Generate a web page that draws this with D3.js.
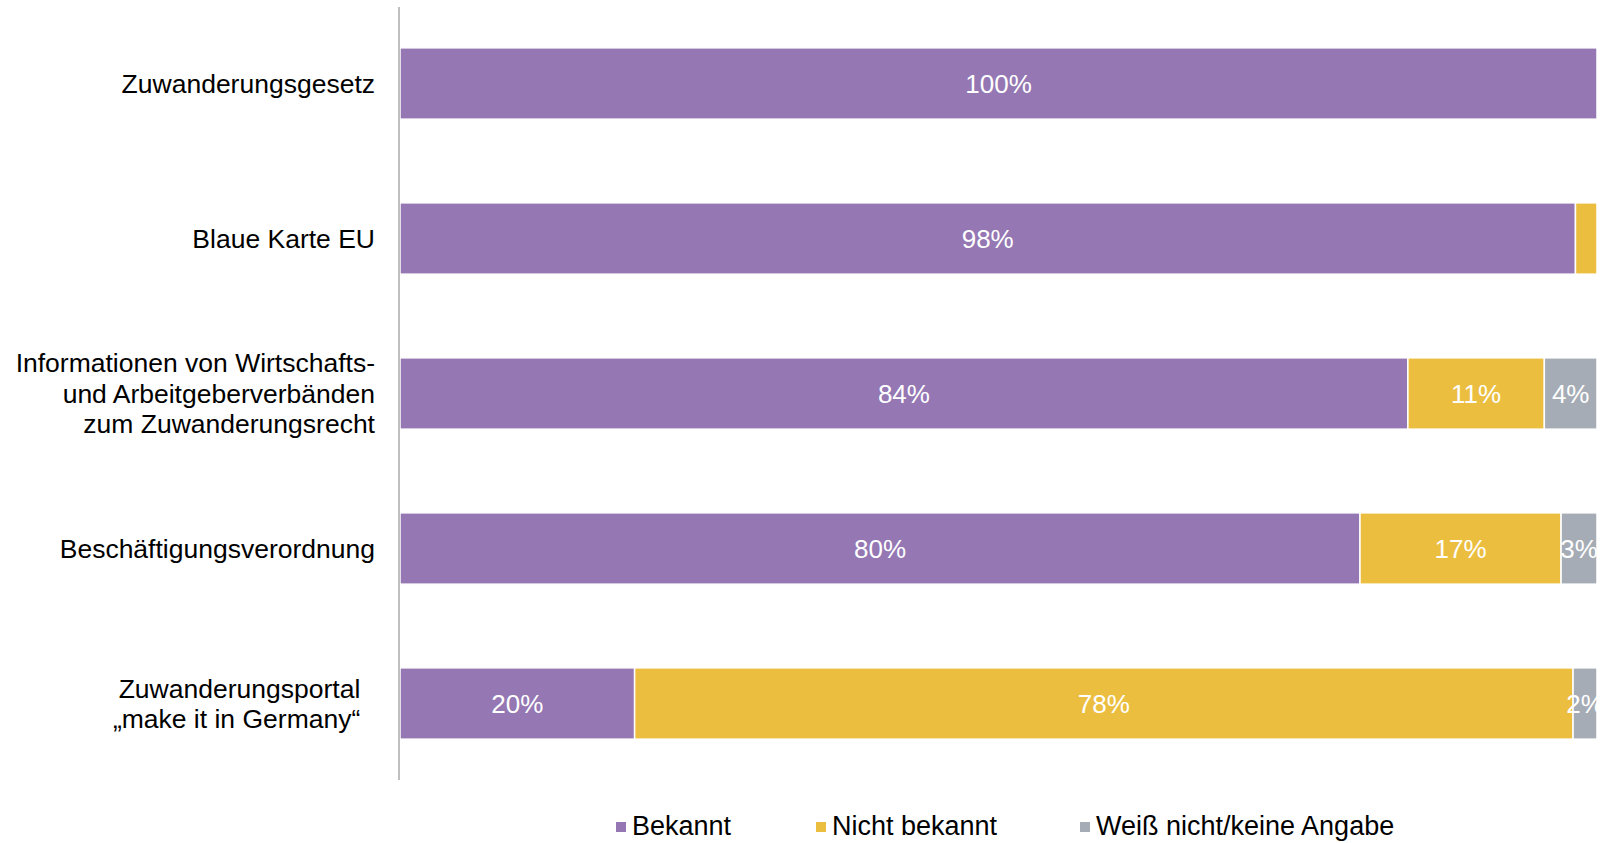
<!DOCTYPE html>
<html>

<head>
    <meta charset="UTF-8">
    <style>
        body { margin: 0; background: #fff; }
        svg { display: block; font-family: "Liberation Sans", Arial, sans-serif; }
    </style>
    <script src="https://d3js.org/d3.v7.min.js"></script>
</head>

<body>
    <svg></svg>

    <script>
        let width = 1606, height = 843;

        // Data
        let categories = [
            ["Zuwanderungsgesetz"],
            ["Blaue Karte EU"],
            ["Informationen von Wirtschafts-", "und Arbeitgeberverbänden", "zum Zuwanderungsrecht"],
            ["Beschäftigungsverordnung"],
            ["Zuwanderungsportal\u00a0\u00a0", "„make it in Germany“\u00a0\u00a0"]
        ];
        let seriesNames = ["Bekannt", "Nicht bekannt", "Weiß nicht/keine Angabe"];
        let bekannt = [100, 98.2, 84.2, 80.2, 19.6];
        let nichtBekannt = [0, 1.8, 11.4, 16.8, 78.4];
        let weissNicht = [0, 0, 4.4, 3.0, 2.0];
        let colors = ["#9477b3", "#ebbe40", "#a5acb5"];

        let svg = d3.select("svg")
            .attr("width", width)
            .attr("height", height);

        let rows = categories.map((c, i) => ({
            key: i,
            label: c,
            values: [bekannt[i], nichtBekannt[i], weissNicht[i]]
        }));

        let x = d3.scaleLinear().domain([0, 100]).range([400, 1597]);
        let y = d3.scaleBand()
            .domain(rows.map(d => d.key))
            .range([6, 781])
            .paddingInner(0.54)
            .paddingOuter(0.27);

        svg.append("defs").append("clipPath").attr("id", "plot")
            .append("rect")
            .attr("x", x(0)).attr("y", 0)
            .attr("width", x(100) - x(0)).attr("height", height);

        // Stacked segments
        let segs = [];
        rows.forEach(r => {
            let acc = 0;
            r.values.forEach((v, j) => {
                segs.push({ row: r.key, s: j, x0: acc, x1: acc + v, v: v });
                acc += v;
            });
        });
        segs = segs.filter(d => d.v > 0);

        svg.append("g")
            .selectAll("rect")
            .data(segs)
            .enter()
            .append("rect")
            .attr("x", d => x(d.x0))
            .attr("y", d => y(d.row))
            .attr("width", d => x(d.x1) - x(d.x0))
            .attr("height", y.bandwidth())
            .attr("fill", d => colors[d.s])
            .attr("stroke", "#fff")
            .attr("stroke-width", 1.5);

        // Value labels
        let fmt = d3.format(".0f");
        svg.append("g")
            .attr("clip-path", "url(#plot)")
            .selectAll("text")
            .data(segs.filter(d => d.v >= 2))
            .enter()
            .append("text")
            .attr("x", d => (x(d.x0) + x(d.x1)) / 2)
            .attr("y", d => y(d.row) + y.bandwidth() / 2)
            .attr("dy", "0.35em")
            .attr("text-anchor", "middle")
            .attr("fill", "#fff")
            .style("font-size", "26px")
            .text(d => fmt(d.v) + "%");

        // Vertical axis line
        svg.append("line")
            .attr("x1", 399).attr("x2", 399)
            .attr("y1", 7).attr("y2", 780)
            .attr("stroke", "#bfbfbf")
            .attr("stroke-width", 2);

        // Category labels
        let lineH = 30.5;
        let lab = svg.append("g")
            .selectAll("text")
            .data(rows)
            .enter()
            .append("text")
            .attr("text-anchor", "end")
            .attr("fill", "#000")
            .style("font-size", "26.5px");

        lab.each(function (d) {
            let n = d.label.length;
            let cy = y(d.key) + y.bandwidth() / 2;
            d3.select(this).selectAll("tspan")
                .data(d.label)
                .enter()
                .append("tspan")
                .attr("x", 375)
                .attr("y", (t, i) => cy + (i - (n - 1) / 2) * lineH)
                .attr("dy", "0.35em")
                .text(t => t);
        });

        // Legend
        let legendX = [616, 816, 1080];
        let legend = svg.append("g")
            .selectAll("g")
            .data(seriesNames)
            .enter()
            .append("g")
            .attr("transform", (d, i) => "translate(" + legendX[i] + ",826)");

        legend.append("rect")
            .attr("x", 0).attr("y", -4)
            .attr("width", 10).attr("height", 10)
            .attr("fill", (d, i) => colors[i]);

        legend.append("text")
            .attr("x", 16)
            .attr("dy", "0.35em")
            .style("font-size", "27px")
            .attr("fill", "#000")
            .text(d => d);
    </script>

</body>

</html>
